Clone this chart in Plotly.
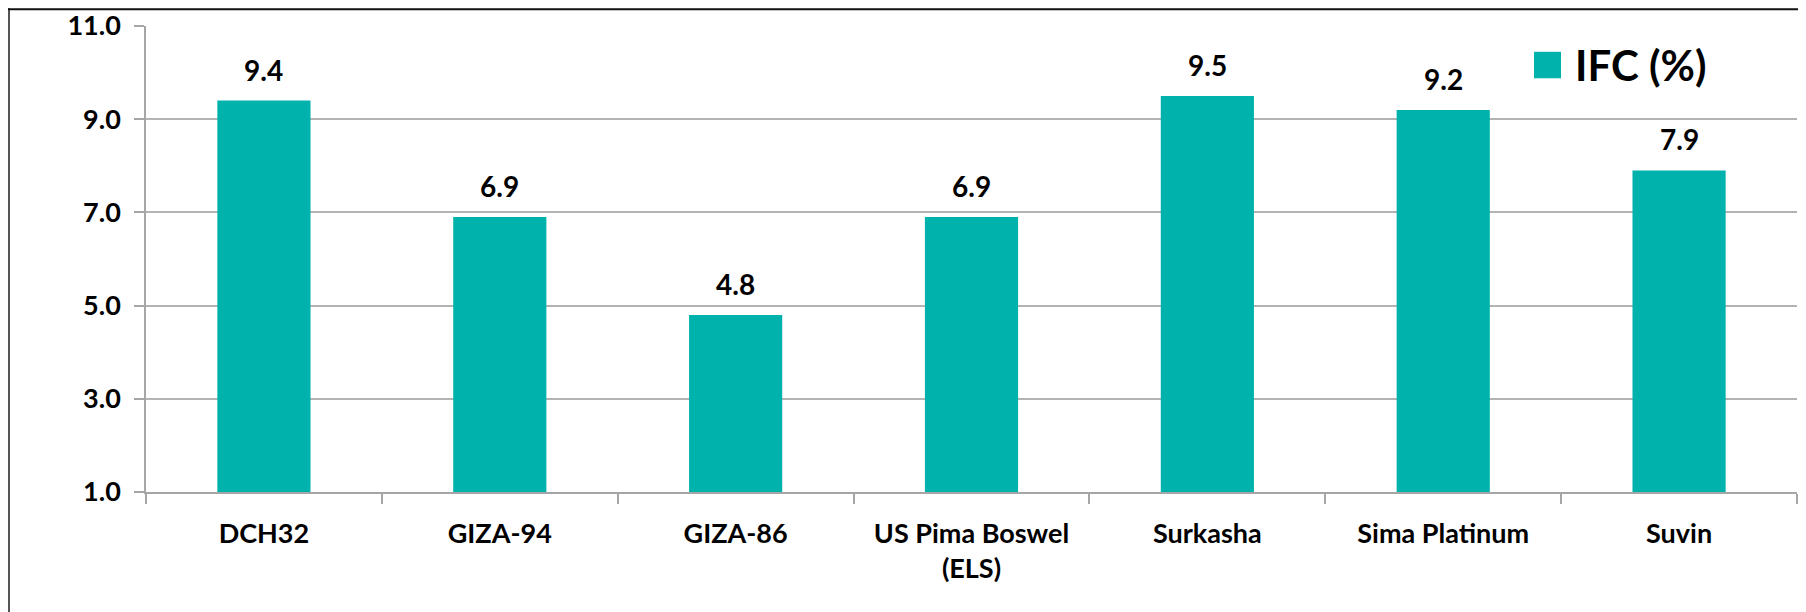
import plotly.graph_objects as go

categories = ["DCH32", "GIZA-94", "GIZA-86", "US Pima Boswel<br>(ELS)", "Surkasha", "Sima Platinum", "Suvin"]
ifc_values = [9.4, 6.9, 4.8, 6.9, 9.5, 9.2, 7.9]
value_labels = ["9.4", "6.9", "4.8", "6.9", "9.5", "9.2", "7.9"]
y_ticks = [1.0, 3.0, 5.0, 7.0, 9.0, 11.0]
y_tick_labels = ["1.0", "3.0", "5.0", "7.0", "9.0", "11.0"]
series_name = "IFC (%)"

TEAL = "#00B2AC"
FONT = "Lato"

# page is offset by the default 8px body margin; work in figure pixels
W, H = 1798, 604
PL, PR, PT, PB = 138, 1789, 17.7, 483.7   # plot area edges in figure px
PW, PH = PR - PL, PB - PT


def px(x):
    return (x - PL) / PW


def py(y):
    return (PB - y) / PH


fig = go.Figure()
fig.add_trace(go.Bar(
    x=categories, y=[v - 1.0 for v in ifc_values], base=1.0,
    marker=dict(color=TEAL, line=dict(width=0)),
    name=series_name, showlegend=False,
))

for c, v, t in zip(categories, ifc_values, value_labels):
    fig.add_annotation(x=c, y=v, text="<b>%s</b>" % t, showarrow=False,
                       yanchor="bottom", yshift=12,
                       font=dict(family=FONT, size=28, color="black"))

# legend key (large square) and text
fig.add_shape(type="rect", xref="paper", yref="paper",
              x0=px(1526), x1=px(1553), y0=py(70), y1=py(43.5),
              fillcolor=TEAL, line=dict(width=0))
fig.add_annotation(xref="paper", yref="paper", x=px(1565), y=py(57),
                   text="<b>%s</b>" % series_name, showarrow=False,
                   xanchor="left", yanchor="middle",
                   font=dict(family=FONT, size=42, color="black"))

# outer frame (left and top edges visible)
fig.add_shape(type="line", xref="paper", yref="paper",
              x0=px(1), x1=px(1), y0=py(H + 5), y1=py(0),
              line=dict(color="#555555", width=2))
fig.add_shape(type="line", xref="paper", yref="paper",
              x0=px(0), x1=px(W + 5), y0=py(1), y1=py(1),
              line=dict(color="#111111", width=2))

fig.update_layout(
    width=W, height=H,
    margin=dict(l=PL, r=W - PR, t=PT, b=H - PB, pad=0, autoexpand=False),
    paper_bgcolor="white", plot_bgcolor="white",
    bargap=0.605,
    font=dict(family=FONT, color="black"),
    xaxis=dict(
        automargin=False,
        tickmode="array", tickvals=categories,
        ticktext=["<b>%s</b>" % c for c in categories],
        tickfont=dict(family=FONT, size=27, color="black"),
        showline=True, linecolor="#A6A6A6", linewidth=1.5,
        ticks="outside", ticklen=10, tickcolor="#A6A6A6", tickwidth=1.5,
        tickson="boundaries", showgrid=False, ticklabelstandoff=17,
    ),
    yaxis=dict(
        automargin=False,
        range=[1.0, 11.0],
        tickmode="array", tickvals=y_ticks,
        ticktext=["<b>%s</b>" % t for t in y_tick_labels],
        tickfont=dict(family=FONT, size=27, color="black"),
        showline=True, linecolor="#A6A6A6", linewidth=1.5,
        ticks="outside", ticklen=10, tickcolor="#A6A6A6", tickwidth=1.5,
        showgrid=True, gridcolor="#B3B3B3", gridwidth=1.5,
        zeroline=False, ticklabelstandoff=8,
    ),
)

fig.write_html("out.html")
